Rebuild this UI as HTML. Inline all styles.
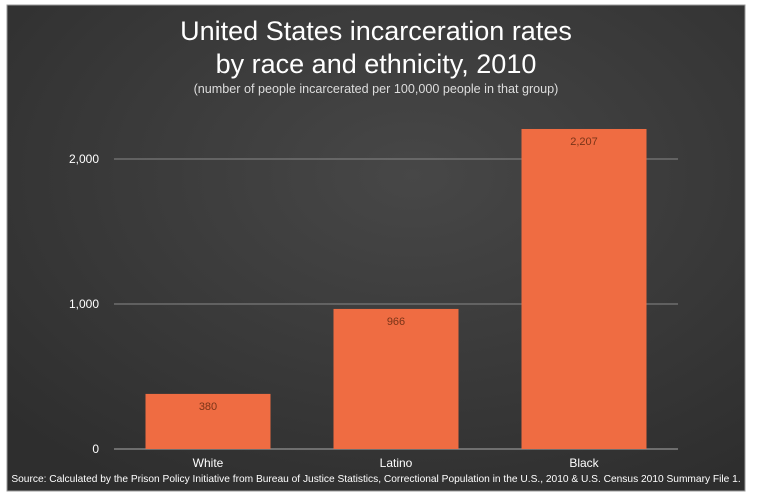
<!DOCTYPE html>
<html><head><meta charset="utf-8"><style>
html,body{margin:0;padding:0;background:#fff;width:774px;height:502px;overflow:hidden}
svg{display:block;font-family:"Liberation Sans",sans-serif}
</style></head><body>
<svg width="774" height="502">
<defs>
<radialGradient id="bg" cx="0.55" cy="0.35" r="0.75">
<stop offset="0" stop-color="#474747"/><stop offset="1" stop-color="#2e2e2e"/>
</radialGradient>
</defs>
<rect x="7" y="5" width="738" height="486" fill="url(#bg)" stroke="#999" stroke-width="1"/>
<text x="376" y="40" text-anchor="middle" fill="#fff" font-size="27">United States incarceration rates</text>
<text x="376" y="73" text-anchor="middle" fill="#fff" font-size="27">by race and ethnicity, 2010</text>
<text x="376" y="93" text-anchor="middle" fill="#ddd" font-size="12.6">(number of people incarcerated per 100,000 people in that group)</text>
<g id="grid"></g>
<g id="bars"></g>
<text x="376" y="482" text-anchor="middle" fill="#fff" font-size="10.2">Source: Calculated by the Prison Policy Initiative from Bureau of Justice Statistics, Correctional Population in the U.S., 2010 &amp; U.S. Census 2010 Summary File 1.</text>
</svg>
<script>
const categories = ["White", "Latino", "Black"];
const values = [380, 966, 2207];
const valueLabels = ["380", "966", "2,207"];
const ticks = [0, 1000, 2000];
const tickLabels = ["0", "1,000", "2,000"];
const NS = "http://www.w3.org/2000/svg";
const x0 = 114, x1 = 678, yBase = 449, pxPer = 0.145;
const y = v => yBase - v * pxPer;
const band = (x1 - x0) / categories.length;
const grid = document.getElementById("grid"), bars = document.getElementById("bars");
function mk(tag, attrs, parent, text) {
  const e = document.createElementNS(NS, tag);
  for (const k in attrs) e.setAttribute(k, attrs[k]);
  if (text !== undefined) e.textContent = text;
  parent.appendChild(e); return e;
}
ticks.forEach((t, i) => {
  const l = mk("line", {x1: x0, x2: x1, y1: y(t), y2: y(t), stroke: t === 0 ? "#aaa" : "#888", "stroke-width": 1}, grid);
  
  
  const tx = mk("text", {x: 99, y: y(t) + 4, "text-anchor": "end", fill: "#fff", "font-size": 12}, grid, tickLabels[i]);
  
  
});
categories.forEach((c, i) => {
  const cx = x0 + band * (i + 0.5), w = 125;
  const r = mk("rect", {x: cx - w / 2, y: y(values[i]), width: w, height: yBase - y(values[i]), fill: "#ef6c42"}, bars);
  
  
  const v = mk("text", {x: cx, y: y(values[i]) + 16, "text-anchor": "middle", fill: "#7a3418", "font-size": 11}, bars, valueLabels[i]);
  
  
  const cl = mk("text", {x: cx, y: 467, "text-anchor": "middle", fill: "#fff", "font-size": 12}, bars, c);
  
  
});
</script>
</body></html>
